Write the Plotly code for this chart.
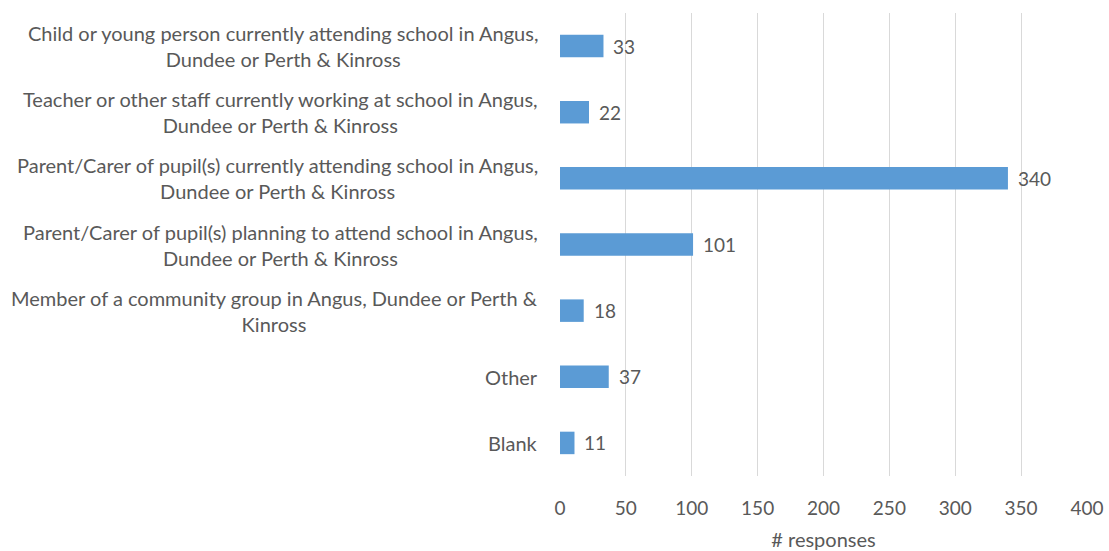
import plotly.graph_objects as go

categories = [
    "Child or young person currently attending school in Angus,<br>Dundee or Perth & Kinross",
    "Teacher or other staff currently working at school in Angus,<br>Dundee or Perth & Kinross",
    "Parent/Carer of pupil(s) currently attending school in Angus,<br>Dundee or Perth & Kinross",
    "Parent/Carer of pupil(s) planning to attend school in Angus,<br>Dundee or Perth & Kinross",
    "Member of a community group in Angus, Dundee or Perth &<br>Kinross",
    "Other",
    "Blank",
]
values = [33, 22, 340, 101, 18, 37, 11]
x_ticks = [0, 50, 100, 150, 200, 250, 300, 350, 400]

FONT = "Lato"
TXT = "#595959"

fig = go.Figure()
fig.add_trace(go.Bar(
    y=categories, x=values, orientation="h",
    marker=dict(color="#5B9BD5", line=dict(width=0)),
    width=0.34, hoverinfo="x+y",
))

annotations = []
for c, v in zip(categories, values):
    annotations.append(dict(
        x=v, y=c, xref="x", yref="y", text=str(v), showarrow=False,
        xanchor="left", xshift=8, font=dict(family=FONT, size=19, color=TXT),
    ))
    annotations.append(dict(
        x=0, y=c, xref="paper", yref="y", text=c, showarrow=False,
        xanchor="right", xshift=-20, align="center",
        font=dict(family=FONT, size=20, color=TXT),
    ))

fig.update_layout(
    width=1109, height=551,
    margin=dict(l=560, r=22, t=13, b=75),
    paper_bgcolor="white", plot_bgcolor="white",
    showlegend=False,
    font=dict(family=FONT, size=17, color=TXT),
    annotations=annotations,
    xaxis=dict(
        range=[0, 400.01], tickvals=x_ticks, ticktext=[str(t) for t in x_ticks],
        showgrid=True, gridcolor="#D9D9D9", gridwidth=1, zeroline=False,
        showline=False, ticks="outside", ticklen=15, tickcolor="rgba(0,0,0,0)",
        tickfont=dict(family=FONT, size=19, color=TXT),
        title=dict(text="# responses", font=dict(family=FONT, size=20, color=TXT), standoff=21),
        automargin=False, fixedrange=True,
    ),
    yaxis=dict(
        categoryorder="array", categoryarray=categories[::-1],
        showticklabels=False, showgrid=False, zeroline=False, showline=False,
        range=[-0.5, 6.5], automargin=False, fixedrange=True,
    ),
)

fig.write_html(
    "out.html",
    config={"displayModeBar": False},
    post_script="document.body.style.margin='0';document.body.style.overflow='hidden';",
)
